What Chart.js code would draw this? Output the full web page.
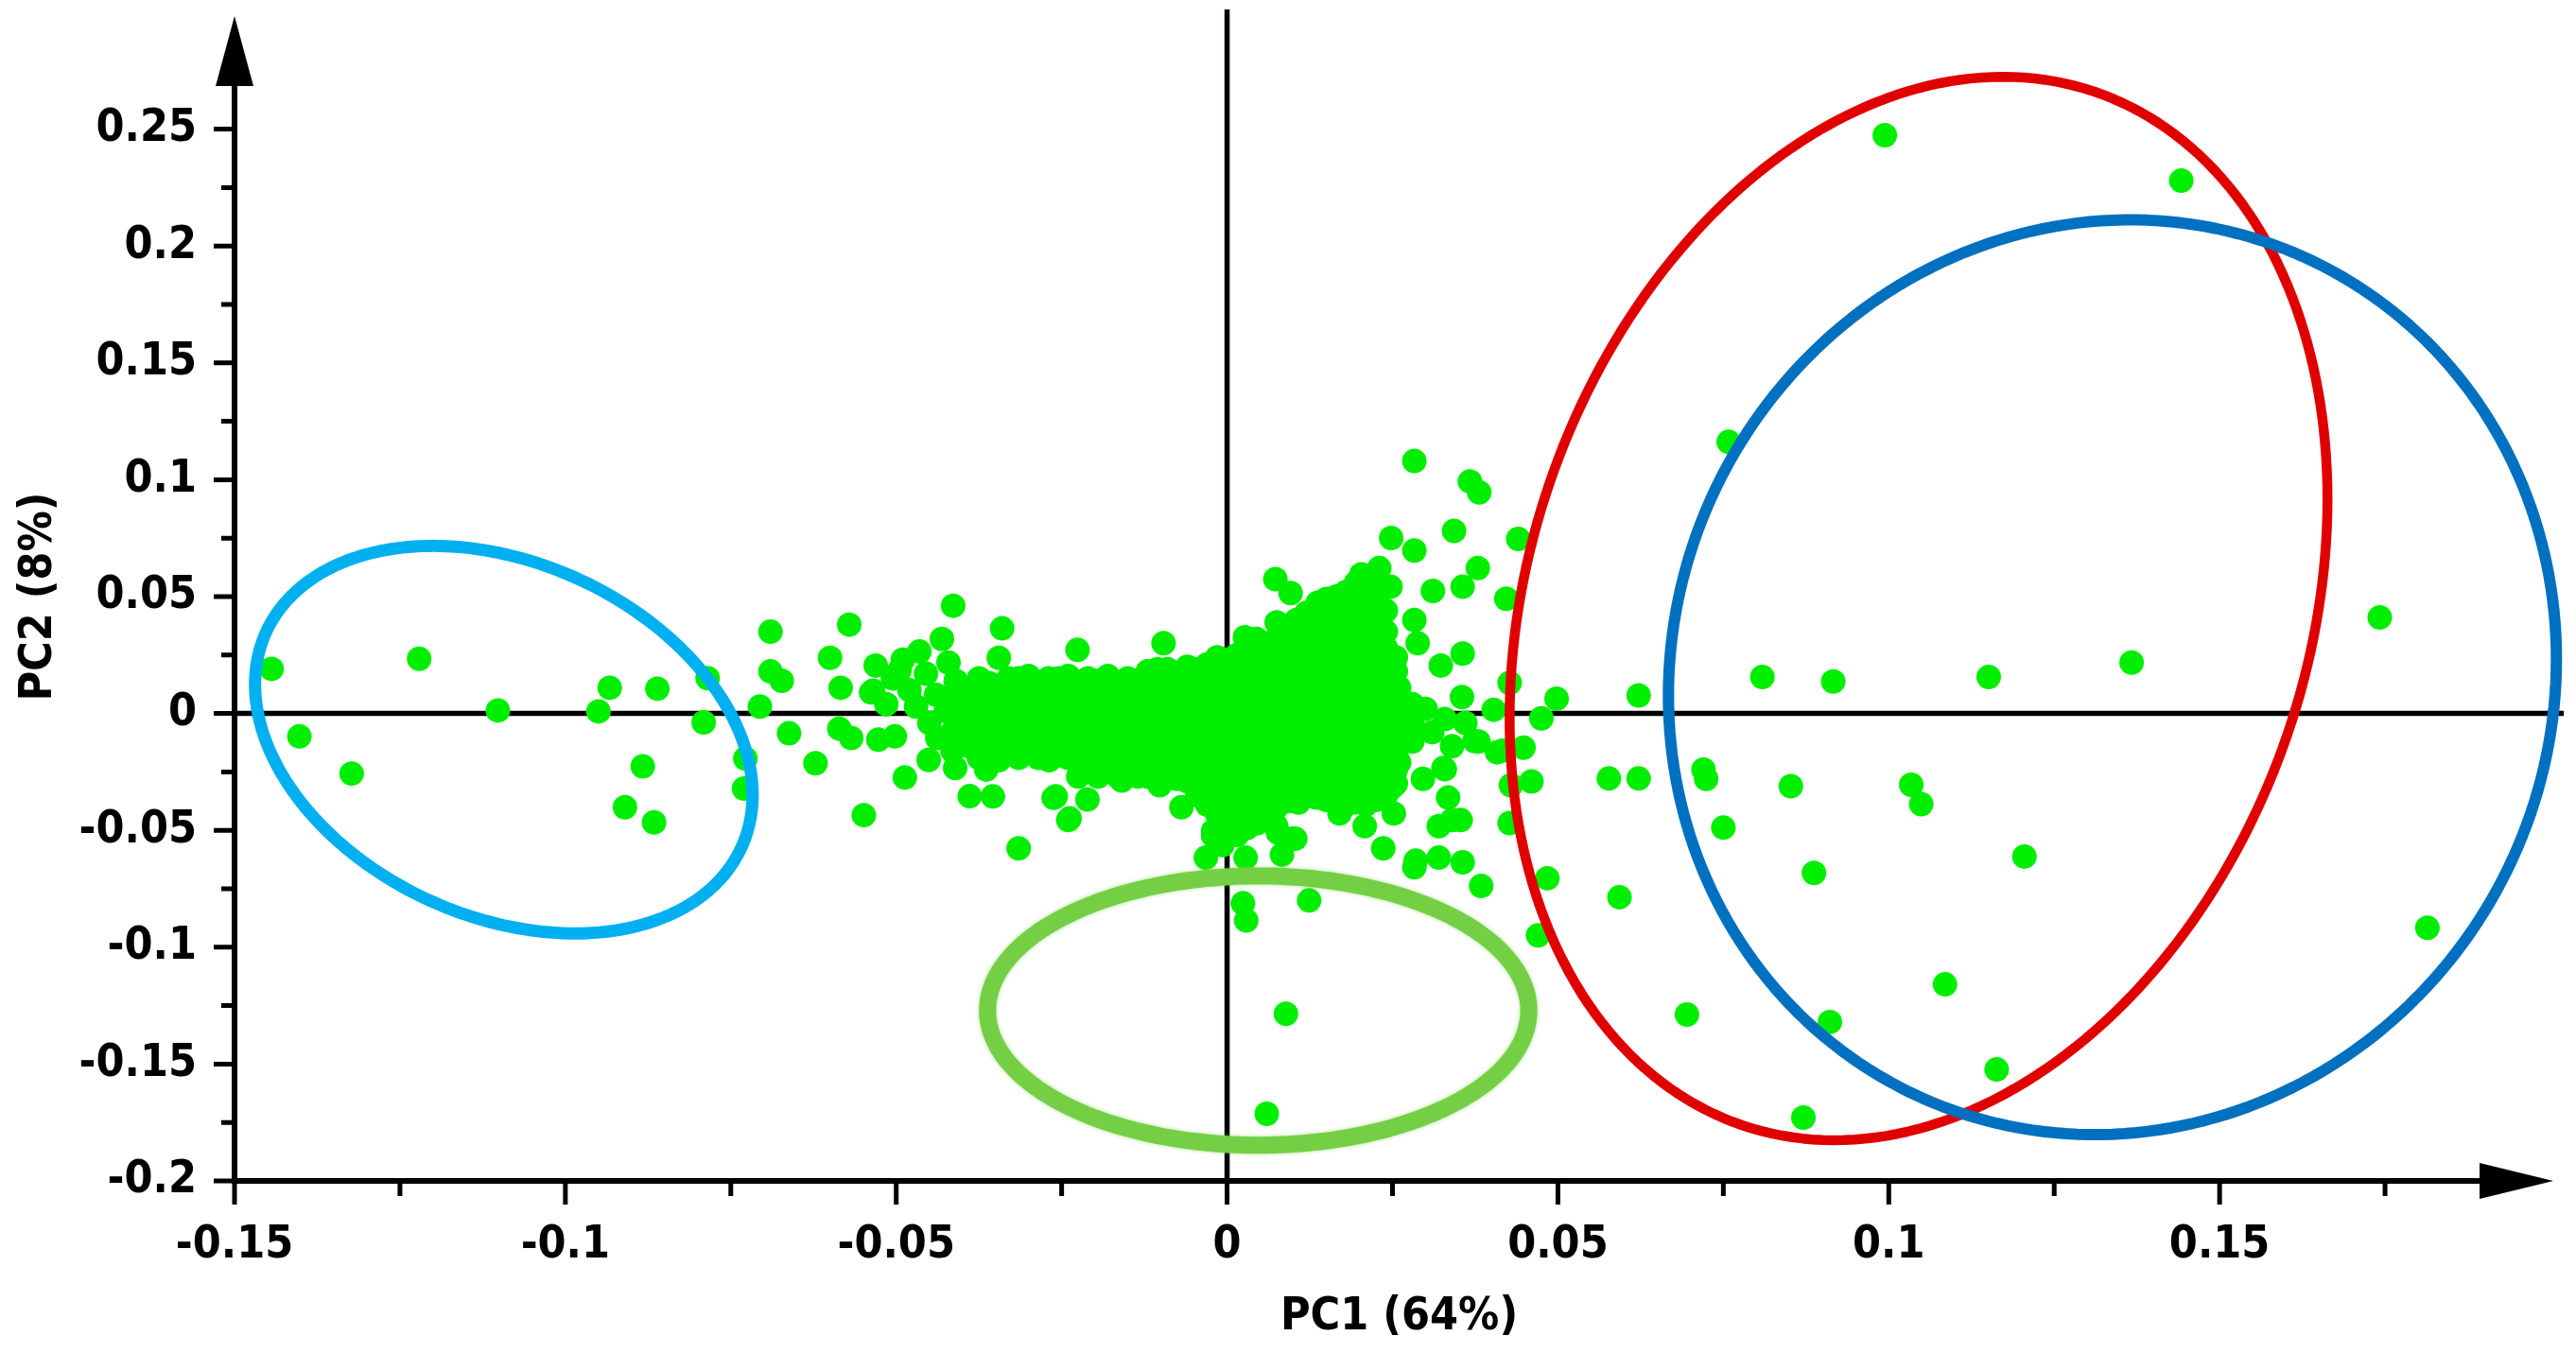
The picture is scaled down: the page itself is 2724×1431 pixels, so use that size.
<!DOCTYPE html>
<html>
<head>
<meta charset="utf-8">
<title>PCA scores</title>
<script src="https://cdn.jsdelivr.net/npm/chart.js@4.4.1/dist/chart.umd.min.js"></script>
<style>
  html, body { margin: 0; padding: 0; background: #fff; }
  canvas { display: block; }
</style>
</head>
<body>
<canvas id="pcaChart" width="2724" height="1431" style="width:2724px;height:1431px"></canvas>
<script>
// axis ticks (minor ticks carry an empty label)
const xTickValues = [-0.15, -0.125, -0.1, -0.075, -0.05, -0.025, 0, 0.025, 0.05, 0.075, 0.1, 0.125, 0.15, 0.175];
const xTickLabels = ['-0.15', '', '-0.1', '', '-0.05', '', '0', '', '0.05', '', '0.1', '', '0.15', ''];
const yTickValues = [-0.2, -0.175, -0.15, -0.125, -0.1, -0.075, -0.05, -0.025, 0, 0.025, 0.05, 0.075, 0.1, 0.125, 0.15, 0.175, 0.2, 0.225, 0.25];
const yTickLabels = ['-0.2', '', '-0.15', '', '-0.1', '', '-0.05', '', '0', '', '0.05', '', '0.1', '', '0.15', '', '0.2', '', '0.25'];

// scores [PC1, PC2]
const samplesLeft = [
  [-0.1444, 0.0191], [-0.1221, 0.0234], [-0.1402, -0.0098], [-0.1323, -0.0257], [-0.1102, 0.0013],
  [-0.0933, 0.0110], [-0.0950, 0.0009], [-0.0861, 0.0106], [-0.0883, -0.0226], [-0.0910, -0.0401],
  [-0.0866, -0.0466], [-0.0785, 0.0151], [-0.0791, -0.0038], [-0.0728, -0.0193], [-0.0730, -0.0321],
  [-0.0690, 0.0350], [-0.0690, 0.0180], [-0.0673, 0.0140], [-0.0706, 0.0030], [-0.0662, -0.0085],
  [-0.0622, -0.0213], [-0.0571, 0.0380], [-0.0600, 0.0238], [-0.0584, 0.0110], [-0.0549, -0.0435],
  [-0.0586, -0.0065], [-0.0568, -0.0105], [-0.0527, -0.0112], [-0.0502, -0.0098], [-0.0487, -0.0274],
  [-0.0414, 0.0461], [-0.0431, 0.0319], [-0.0531, 0.0205], [-0.0495, 0.0185], [-0.0535, 0.0097],
  [-0.0451, -0.0199], [-0.0389, -0.0354], [-0.0538, 0.0090], [-0.0438, -0.0105], [-0.0411, -0.0233],
  [-0.0505, 0.0150], [-0.0480, 0.0100], [-0.0470, 0.0030], [-0.0455, 0.0170], [-0.0440, 0.0080],
  [-0.0425, 0.0010], [-0.0410, 0.0140], [-0.0450, -0.0040], [-0.0515, 0.0040], [-0.0490, 0.0230],
  [-0.0465, 0.0265], [-0.0421, 0.0218]
];

const samplesCore = [
  [-0.039, -0.014], [-0.039, -0.006], [-0.039, 0.002], [-0.039, 0.010],
  [-0.036, -0.016], [-0.036, -0.009], [-0.036, -0.002], [-0.036, 0.005], [-0.036, 0.013],
  [-0.033, -0.015], [-0.033, -0.007], [-0.033, 0.001], [-0.033, 0.009], [-0.033, 0.015],
  [-0.030, -0.016], [-0.030, -0.009], [-0.030, -0.002], [-0.030, 0.005], [-0.030, 0.012], [-0.030, 0.016],
  [-0.027, -0.015], [-0.027, -0.007], [-0.027, 0.001], [-0.027, 0.008], [-0.027, 0.015],
  [-0.024, -0.019], [-0.024, -0.012], [-0.024, -0.005], [-0.024, 0.002], [-0.024, 0.009], [-0.024, 0.016],
  [-0.021, -0.023], [-0.021, -0.015], [-0.021, -0.007], [-0.021, 0.001], [-0.021, 0.008], [-0.021, 0.015],
  [-0.018, -0.024], [-0.018, -0.017], [-0.018, -0.010], [-0.018, -0.003], [-0.018, 0.004], [-0.018, 0.011], [-0.018, 0.016],
  [-0.015, -0.023], [-0.015, -0.015], [-0.015, -0.007], [-0.015, 0.001], [-0.015, 0.008], [-0.015, 0.015],
  [-0.012, -0.027], [-0.012, -0.020], [-0.012, -0.013], [-0.012, -0.006], [-0.012, 0.001], [-0.012, 0.008], [-0.012, 0.015], [-0.012, 0.018],
  [-0.009, -0.028], [-0.009, -0.021], [-0.009, -0.013], [-0.009, -0.005], [-0.009, 0.003], [-0.009, 0.011], [-0.009, 0.019],
  [-0.006, -0.029], [-0.006, -0.022], [-0.006, -0.015], [-0.006, -0.008], [-0.006, -0.001], [-0.006, 0.006], [-0.006, 0.013], [-0.006, 0.020],
  [-0.003, -0.039], [-0.003, -0.031], [-0.003, -0.023], [-0.003, -0.015], [-0.003, -0.007], [-0.003, 0.001], [-0.003, 0.009], [-0.003, 0.016], [-0.003, 0.021],
  [0.000, -0.047], [0.000, -0.040], [0.000, -0.033], [0.000, -0.026], [0.000, -0.019], [0.000, -0.012], [0.000, -0.005], [0.000, 0.002], [0.000, 0.009], [0.000, 0.016], [0.000, 0.023],
  [0.003, -0.049], [0.003, -0.041], [0.003, -0.033], [0.003, -0.025], [0.003, -0.017], [0.003, -0.009], [0.003, -0.001], [0.003, 0.007], [0.003, 0.015], [0.003, 0.022], [0.003, 0.027],
  [0.006, -0.044], [0.006, -0.037], [0.006, -0.030], [0.006, -0.023], [0.006, -0.016], [0.006, -0.009], [0.006, -0.002], [0.006, 0.005], [0.006, 0.012], [0.006, 0.019], [0.006, 0.026], [0.006, 0.030],
  [0.009, -0.036], [0.009, -0.028], [0.009, -0.020], [0.009, -0.012], [0.009, -0.004], [0.009, 0.004], [0.009, 0.012], [0.009, 0.020], [0.009, 0.028], [0.009, 0.036],
  [0.012, -0.034], [0.012, -0.027], [0.012, -0.020], [0.012, -0.013], [0.012, -0.006], [0.012, 0.001], [0.012, 0.008], [0.012, 0.015], [0.012, 0.022], [0.012, 0.029], [0.012, 0.036], [0.012, 0.043],
  [0.015, -0.037], [0.015, -0.029], [0.015, -0.021], [0.015, -0.013], [0.015, -0.005], [0.015, 0.003], [0.015, 0.011], [0.015, 0.019], [0.015, 0.027], [0.015, 0.035], [0.015, 0.043], [0.015, 0.049],
  [0.018, -0.039], [0.018, -0.032], [0.018, -0.025], [0.018, -0.018], [0.018, -0.011], [0.018, -0.004], [0.018, 0.003], [0.018, 0.010], [0.018, 0.017], [0.018, 0.024], [0.018, 0.031], [0.018, 0.038], [0.018, 0.045], [0.018, 0.052],
  [0.021, -0.039], [0.021, -0.031], [0.021, -0.023], [0.021, -0.015], [0.021, -0.007], [0.021, 0.001], [0.021, 0.009], [0.021, 0.017], [0.021, 0.025], [0.021, 0.033], [0.021, 0.041], [0.021, 0.048], [0.021, 0.054],
  [0.024, -0.035], [0.024, -0.028], [0.024, -0.021], [0.024, -0.014], [0.024, -0.007], [0.024, 0.000], [0.024, 0.007], [0.024, 0.014], [0.024, 0.021], [0.024, 0.028], [0.024, 0.035], [0.024, 0.044],
  [0.026, -0.021], [0.026, -0.013], [0.026, -0.005], [0.026, 0.003], [0.026, 0.011],
  [0.028, -0.012], [0.028, -0.004], [0.028, 0.004]
];

// in-between core points, the cluster is solid in the picture
const samplesCoreFill = [
  [-0.0415, -0.016], [-0.0415, -0.008], [-0.0415, 0.000], [-0.0415, 0.008],
  [-0.0375, -0.019], [-0.0375, -0.012], [-0.0375, -0.005], [-0.0375, 0.002], [-0.0375, 0.009], [-0.0375, 0.015],
  [-0.0345, -0.020], [-0.0345, -0.012], [-0.0345, -0.004], [-0.0345, 0.004], [-0.0345, 0.012],
  [-0.0315, -0.019], [-0.0315, -0.012], [-0.0315, -0.005], [-0.0315, 0.002], [-0.0315, 0.009], [-0.0315, 0.015],
  [-0.0285, -0.019], [-0.0285, -0.011], [-0.0285, -0.004], [-0.0285, 0.004], [-0.0285, 0.012],
  [-0.0255, -0.018], [-0.0255, -0.011], [-0.0255, -0.004], [-0.0255, 0.003], [-0.0255, 0.010], [-0.0255, 0.015],
  [-0.0225, -0.027], [-0.0225, -0.019], [-0.0225, -0.011], [-0.0225, -0.003], [-0.0225, 0.005], [-0.0225, 0.012],
  [-0.0195, -0.027], [-0.0195, -0.020], [-0.0195, -0.013], [-0.0195, -0.006], [-0.0195, 0.001], [-0.0195, 0.008], [-0.0195, 0.014],
  [-0.0165, -0.027], [-0.0165, -0.019], [-0.0165, -0.011], [-0.0165, -0.003], [-0.0165, 0.005], [-0.0165, 0.012],
  [-0.0135, -0.027], [-0.0135, -0.020], [-0.0135, -0.013], [-0.0135, -0.006], [-0.0135, 0.001], [-0.0135, 0.008], [-0.0135, 0.014],
  [-0.0105, -0.028], [-0.0105, -0.024], [-0.0105, -0.017], [-0.0105, -0.009], [-0.0105, -0.001], [-0.0105, 0.007], [-0.0105, 0.015], [-0.0105, 0.019],
  [-0.0075, -0.028], [-0.0075, -0.025], [-0.0075, -0.018], [-0.0075, -0.011], [-0.0075, -0.004], [-0.0075, 0.003], [-0.0075, 0.010], [-0.0075, 0.017],
  [-0.0045, -0.035], [-0.0045, -0.027], [-0.0045, -0.019], [-0.0045, -0.011], [-0.0045, -0.003], [-0.0045, 0.005], [-0.0045, 0.012], [-0.0045, 0.019],
  [-0.0015, -0.043], [-0.0015, -0.036], [-0.0015, -0.029], [-0.0015, -0.022], [-0.0015, -0.015], [-0.0015, -0.008], [-0.0015, -0.001], [-0.0015, 0.006], [-0.0015, 0.013], [-0.0015, 0.020], [-0.0015, 0.024],
  [0.0015, -0.052], [0.0015, -0.044], [0.0015, -0.036], [0.0015, -0.029], [0.0015, -0.021], [0.0015, -0.013], [0.0015, -0.005], [0.0015, 0.003], [0.0015, 0.011], [0.0015, 0.018], [0.0015, 0.025],
  [0.0045, -0.047], [0.0045, -0.040], [0.0045, -0.033], [0.0045, -0.026], [0.0045, -0.019], [0.0045, -0.012], [0.0045, -0.005], [0.0045, 0.002], [0.0045, 0.009], [0.0045, 0.016], [0.0045, 0.023], [0.0045, 0.029],
  [0.0075, -0.040], [0.0075, -0.032], [0.0075, -0.024], [0.0075, -0.016], [0.0075, -0.008], [0.0075, 0.000], [0.0075, 0.008], [0.0075, 0.016], [0.0075, 0.024], [0.0075, 0.032], [0.0075, 0.039],
  [0.0105, -0.035], [0.0105, -0.031], [0.0105, -0.024], [0.0105, -0.017], [0.0105, -0.010], [0.0105, -0.003], [0.0105, 0.004], [0.0105, 0.011], [0.0105, 0.018], [0.0105, 0.025], [0.0105, 0.032], [0.0105, 0.040],
  [0.0135, -0.036], [0.0135, -0.031], [0.0135, -0.024], [0.0135, -0.017], [0.0135, -0.009], [0.0135, -0.001], [0.0135, 0.007], [0.0135, 0.015], [0.0135, 0.023], [0.0135, 0.031], [0.0135, 0.039], [0.0135, 0.046],
  [0.0165, -0.038], [0.0165, -0.033], [0.0165, -0.025], [0.0165, -0.017], [0.0165, -0.009], [0.0165, -0.001], [0.0165, 0.007], [0.0165, 0.014], [0.0165, 0.021], [0.0165, 0.028], [0.0165, 0.035], [0.0165, 0.042], [0.0165, 0.050],
  [0.0195, -0.038], [0.0195, -0.035], [0.0195, -0.028], [0.0195, -0.021], [0.0195, -0.014], [0.0195, -0.007], [0.0195, 0.000], [0.0195, 0.007], [0.0195, 0.014], [0.0195, 0.021], [0.0195, 0.028], [0.0195, 0.035], [0.0195, 0.043], [0.0195, 0.051], [0.0195, 0.056],
  [0.0225, -0.037], [0.0225, -0.032], [0.0225, -0.025], [0.0225, -0.018], [0.0225, -0.011], [0.0225, -0.004], [0.0225, 0.004], [0.0225, 0.011], [0.0225, 0.018], [0.0225, 0.025], [0.0225, 0.032], [0.0225, 0.039], [0.0225, 0.047], [0.0225, 0.055],
  [0.0255, -0.030], [0.0255, -0.024], [0.0255, -0.017], [0.0255, -0.010], [0.0255, -0.003], [0.0255, 0.004], [0.0255, 0.011], [0.0255, 0.018], [0.0255, 0.024]
];

const samplesMid = [
  [-0.0340, 0.0364], [-0.0345, 0.0238], [-0.0226, 0.0272], [-0.0096, 0.0301], [0.0027, 0.0326],
  [-0.0354, -0.0355], [-0.0364, -0.0240], [-0.0259, -0.0355], [-0.0238, -0.0449], [-0.0211, -0.0368],
  [-0.0269, -0.0200], [-0.0159, -0.0287], [-0.0102, -0.0307], [-0.0069, -0.0401], [-0.0021, -0.0503],
  [0.0003, -0.0401], [0.0070, -0.0388], [0.0074, -0.0481], [0.0093, -0.0375], [-0.0007, -0.0563],
  [-0.0315, -0.0577], [-0.0240, -0.0456], [-0.0262, -0.0361],
  [0.0073, 0.0575], [0.0096, 0.0515], [0.0137, 0.0474], [0.0203, 0.0595], [0.0230, 0.0622],
  [0.0247, 0.0542], [0.0192, 0.0515], [0.0044, 0.0319], [0.0102, 0.0245],
  [-0.0021, -0.0523], [-0.0032, -0.0617], [0.0028, -0.0617], [0.0083, -0.0604], [0.0077, -0.0510],
  [0.0099, -0.0536], [0.0024, -0.0812], [0.0029, -0.0886], [0.0124, -0.0800], [0.0089, -0.1285],
  [0.0060, -0.1713], [0.0103, -0.0536], [0.0108, -0.0381], [0.0170, -0.0428], [0.0208, -0.0482],
  [0.0236, -0.0577], [0.0250, -0.0314], [0.0252, -0.0428],
  [0.0283, 0.1080], [0.0367, 0.0993], [0.0381, 0.0946], [0.0343, 0.0781], [0.0440, 0.0747],
  [0.0248, 0.0751], [0.0283, 0.0697], [0.0379, 0.0622], [0.0356, 0.0542], [0.0311, 0.0524],
  [0.0422, 0.0491], [0.0283, 0.0400], [0.0288, 0.0301], [0.0356, 0.0256], [0.0323, 0.0205],
  [0.0427, 0.0131], [0.0498, 0.0063], [0.0622, 0.0077], [0.0475, -0.0021], [0.0403, 0.0016],
  [0.0355, 0.0070], [0.0329, -0.0024], [0.0448, -0.0146], [0.0408, -0.0166], [0.0374, -0.0118],
  [0.0416, -0.0159], [0.0329, -0.0239], [0.0296, -0.0280], [0.0334, -0.0360], [0.0340, -0.0456],
  [0.0247, -0.0320], [0.0285, -0.0630], [0.0320, -0.0617], [0.0356, -0.0637], [0.0460, -0.0291],
  [0.0429, -0.0307], [0.0577, -0.0278], [0.0622, -0.0278], [0.0720, -0.0240], [0.0724, -0.0280],
  [0.0427, -0.0469], [0.0750, -0.0488], [0.0327, -0.0233], [0.0320, -0.0482], [0.0353, -0.0456],
  [0.0283, -0.0658], [0.0384, -0.0738], [0.0484, -0.0705], [0.0593, -0.0786], [0.0470, -0.0949],
  [0.0300, 0.0020], [0.0310, -0.0080], [0.0340, -0.0140], [0.0360, -0.0040], [0.0380, -0.0120]
];

const samplesRight = [
  [0.0994, 0.2474], [0.1442, 0.2280], [0.0758, 0.1162], [0.1742, 0.0411], [0.1367, 0.0218],
  [0.1151, 0.0156], [0.0916, 0.0137], [0.0809, 0.0156], [0.0852, -0.0311], [0.1034, -0.0305],
  [0.1049, -0.0388], [0.1205, -0.0612], [0.0887, -0.0682], [0.1814, -0.0917], [0.1085, -0.1159],
  [0.0695, -0.1288], [0.0911, -0.1320], [0.1163, -0.1523], [0.0871, -0.1729]
];

// group ellipses: centre, half width, half height (data units), tilt as correlation
const ringCentreX = [-0.1093, 0.0047, 0.1045, 0.1338];
const ringCentreY = [-0.0112, -0.1271, 0.0449, 0.0155];
const ringHalfW = [0.0376, 0.0409, 0.0618, 0.0671];
const ringHalfH = [0.0829, 0.0576, 0.2275, 0.1957];
const ringTilt = [-0.285, 0, 0.206, 0.04];
const ringColors = ['#00b0f0', '#74cf45', '#e00000', '#0070c0'];
const ringWidths = [13, 18, 10.5, 12];

const labelFont = { family: '"DejaVu Sans Condensed", "DejaVu Sans", sans-serif', size: 48, weight: 'bold' };

function traceRing(ctx, xs, ys, i) {
  const k = Math.sqrt(1 - ringTilt[i] * ringTilt[i]);
  ctx.beginPath();
  for (let s = 0; s <= 240; s++) {
    const t = s / 240 * Math.PI * 2;
    const px = xs.getPixelForValue(ringCentreX[i] + ringHalfW[i] * Math.cos(t));
    const py = ys.getPixelForValue(ringCentreY[i] + ringHalfH[i] * (ringTilt[i] * Math.cos(t) + k * Math.sin(t)));
    if (s === 0) ctx.moveTo(px, py); else ctx.lineTo(px, py);
  }
  ctx.closePath();
}

const pcaDecor = {
  id: 'pcaDecor',
  beforeDatasetsDraw(chart) {
    const { ctx, chartArea: area, scales: { x, y } } = chart;
    const x0 = x.getPixelForValue(0);
    const y0 = y.getPixelForValue(0);
    ctx.save();
    ctx.strokeStyle = '#000';
    ctx.lineWidth = 5.5;
    ctx.beginPath();
    ctx.moveTo(x0, area.top - 3);
    ctx.lineTo(x0, area.bottom);
    ctx.moveTo(area.left, y0);
    ctx.lineTo(area.right, y0);
    ctx.stroke();
    ctx.restore();
  },
  afterDatasetsDraw(chart) {
    const { ctx, chartArea: area, scales: { x, y } } = chart;
    ctx.save();
    ctx.lineJoin = 'round';
    for (let i = 0; i < ringColors.length; i++) {
      ctx.strokeStyle = ringColors[i];
      ctx.lineWidth = ringWidths[i];
      if (i === 1) { ctx.shadowColor = 'rgba(116,207,69,0.6)'; ctx.shadowBlur = 4; } else { ctx.shadowBlur = 0; }
      traceRing(ctx, x, y, i);
      ctx.stroke();
    }
    ctx.restore();

    // axes with arrow heads
    ctx.save();
    ctx.strokeStyle = '#000';
    ctx.fillStyle = '#000';
    ctx.lineWidth = 6;
    const left = area.left, bottom = area.bottom;
    const yTip = area.top + 4, xTip = area.right - 11;
    ctx.beginPath();
    ctx.moveTo(left, bottom + 3);
    ctx.lineTo(left, yTip + 70);
    ctx.moveTo(left - 3, bottom);
    ctx.lineTo(xTip - 74, bottom);
    ctx.stroke();
    ctx.beginPath();
    ctx.moveTo(left, yTip);
    ctx.lineTo(left - 20, yTip + 74);
    ctx.lineTo(left + 20, yTip + 74);
    ctx.closePath();
    ctx.moveTo(xTip, bottom);
    ctx.lineTo(xTip - 78, bottom - 19);
    ctx.lineTo(xTip - 78, bottom + 19);
    ctx.closePath();
    ctx.fill();

    ctx.lineWidth = 5;
    ctx.beginPath();
    xTickValues.forEach((v, i) => {
      const px = x.getPixelForValue(v);
      ctx.moveTo(px, bottom);
      ctx.lineTo(px, bottom + (xTickLabels[i] ? 25 : 16));
    });
    yTickValues.forEach((v, i) => {
      const py = y.getPixelForValue(v);
      ctx.moveTo(left, py);
      ctx.lineTo(left - (yTickLabels[i] ? 22 : 14), py);
    });
    ctx.stroke();
    ctx.restore();
  }
};

const points = [...samplesLeft, ...samplesMid, ...samplesCore, ...samplesCoreFill, ...samplesRight]
  .map(([pc1, pc2]) => ({ x: pc1, y: pc2 }));

const ctx = document.getElementById('pcaChart').getContext('2d');
const chart = new Chart(ctx, {
  type: 'scatter',
  data: {
    datasets: [
      {
        label: 'samples',
        data: points,
        backgroundColor: '#00ee00',
        borderWidth: 0,
        pointRadius: 13,
        pointHoverRadius: 13,
      },
    ],
  },
  options: {
    responsive: false,
    animation: false,
    devicePixelRatio: 1,
    layout: { padding: { top: 12, right: 12, bottom: 0, left: 0 } },
    plugins: { legend: { display: false }, tooltip: { enabled: false } },
    scales: {
      x: {
        type: 'linear',
        min: -0.15,
        max: 0.202,
        grid: { display: false, drawTicks: false },
        border: { display: false },
        afterBuildTicks: (scale) => { scale.ticks = xTickValues.map((v) => ({ value: v })); },
        afterFit: (scale) => { scale.height = 182; scale.paddingLeft = 0; scale.paddingRight = 0; },
        ticks: {
          autoSkip: false,
          maxRotation: 0,
          padding: 40,
          color: '#000',
          font: labelFont,
          callback: (value, index) => xTickLabels[index],
        },
        title: { display: true, text: 'PC1 (64%)', color: '#000', font: labelFont, padding: { top: 0, bottom: 9 } },
      },
      y: {
        type: 'linear',
        min: -0.2,
        max: 0.3,
        grid: { display: false, drawTicks: false },
        border: { display: false },
        afterBuildTicks: (scale) => { scale.ticks = yTickValues.map((v) => ({ value: v })); },
        afterFit: (scale) => { scale.width = 248; scale.paddingTop = 0; scale.paddingBottom = 0; },
        ticks: {
          autoSkip: false,
          padding: 40,
          color: '#000',
          font: labelFont,
          callback: (value, index) => yTickLabels[index],
        },
        title: { display: true, text: 'PC2 (8%)', color: '#000', font: labelFont, padding: { top: 13, bottom: 0 } },
      },
    },
  },
  plugins: [pcaDecor],
});
</script>
</body>
</html>
